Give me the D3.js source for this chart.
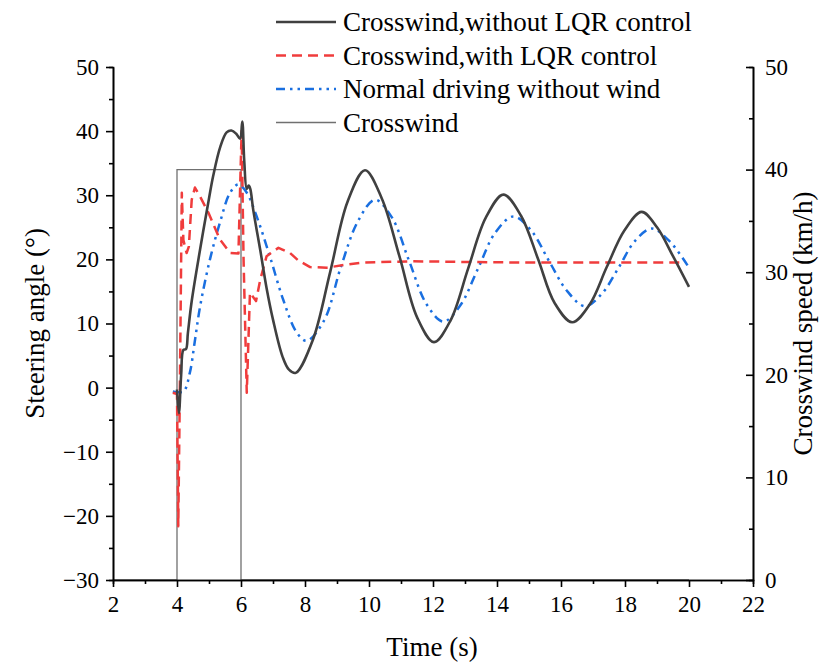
<!DOCTYPE html>
<html>
<head>
<meta charset="utf-8">
<script src="https://cdn.jsdelivr.net/npm/d3@7"></script>
<style>
  body { margin: 0; background: #fff; }
  svg text { font-family: "Liberation Serif", "Times New Roman", serif; fill: #000; }
</style>
</head>
<body>
<script>
// time (s) and steering angle (deg)
var tNoLqr = [4.0, 4.06, 4.13, 4.2, 4.28, 4.34, 4.46, 4.72, 5.0, 5.13, 5.35, 5.55, 5.7, 5.85, 5.97, 6.04, 6.1, 6.18, 6.24, 6.29, 6.38, 6.6, 6.8, 7.0, 7.3, 7.5, 7.71, 8.25, 8.79, 9.33, 9.875, 10.4, 10.95, 11.5, 12.03, 12.55, 13.1, 13.65, 14.2, 14.75, 15.28, 15.8, 16.35, 16.9, 17.43, 17.98, 18.52, 19.0, 19.5, 20.0];
var vNoLqr = [-0.3, -4.0, 2, 5.9, 6.0, 8.5, 13.5, 21.5, 29.5, 33, 37.5, 39.8, 40.1, 39.6, 38.8, 41.5, 35.5, 31.0, 31.5, 31.0, 27.8, 21.5, 15.5, 10.6, 4.8, 2.8, 2.3, 7.5, 18.1, 29, 33.9, 29.5, 20.5, 11, 7.1, 10.5, 18.6, 26.5, 30.1, 26.8, 20.1, 13.2, 10.2, 13, 18.8, 24.5, 27.4, 25, 20.5, 15.7];

var tLqr = [3.87, 4.0, 4.04, 4.09, 4.15, 4.2, 4.3, 4.37, 4.46, 4.56, 4.72, 4.98, 5.34, 5.66, 5.92, 5.99, 6.02, 6.08, 6.18, 6.28, 6.47, 6.6, 6.8, 7.17, 7.53, 7.8, 8.16, 8.68, 9.3, 9.81, 11.38, 13, 15, 17, 19.7];
var vLqr = [-0.8, -1, -21.6, 0, 30.4, 23, 21, 22, 29.3, 31.2, 29.8, 27.3, 23.1, 21, 20.9, 34.5, 40, 20, -0.8, 14.8, 13.5, 16.8, 20.5, 21.8, 21, 19.8, 18.8, 18.7, 19.2, 19.5, 19.7, 19.6, 19.5, 19.5, 19.5];

var tNormal = [3.87, 4.2, 4.4, 4.55, 4.72, 5.03, 5.34, 5.66, 5.92, 6.18, 6.49, 6.9, 7.32, 7.74, 8.05, 8.6, 9.12, 9.66, 10.19, 10.72, 11.25, 11.8, 12.32, 12.85, 13.4, 13.95, 14.51, 15.07, 15.63, 16.2, 16.75, 17.27, 17.8, 18.3, 18.83, 19.4, 20.0];
var vNormal = [-0.6, -0.6, 2.3, 7, 12.6, 20, 25.7, 30.4, 31.7, 30.4, 26.7, 20.5, 13.7, 8.6, 7.3, 10.5, 18.8, 26, 29.3, 26.5, 19.8, 13, 10.3, 12.8, 18.5, 24.2, 26.7, 24.5, 19.7, 15, 12.7, 14.6, 18.7, 22.8, 24.8, 22.8, 18.7];

// crosswind speed (km/h), right axis
var tWind = [2, 4, 4, 6, 6, 20];
var vWind = [0, 0, 40, 40, 0, 0];

var xTicks = [2, 4, 6, 8, 10, 12, 14, 16, 18, 20, 22];
var yTicks = [-30, -20, -10, 0, 10, 20, 30, 40, 50];
var y2Ticks = [0, 10, 20, 30, 40, 50];

var legendNames = ["Crosswind,without LQR control", "Crosswind,with LQR control", "Normal driving without wind", "Crosswind"];

var W = 819, H = 662;
var FONT = "Liberation Serif, Times New Roman, serif";
var margin = { top: 67, right: 66, bottom: 82, left: 113 },
    width = W - margin.left - margin.right,
    height = H - margin.top - margin.bottom;

var x = d3.scaleLinear().domain([2, 22]).range([0, width]);
var y = d3.scaleLinear().domain([-30, 50]).range([height, 0]);
var y2 = d3.scaleLinear().domain([0, 50]).range([height, 0]);

var svg = d3.select("body").append("svg")
    .attr("width", W)
    .attr("height", H)
    .attr("font-family", FONT);

var g = svg.append("g")
    .attr("transform", "translate(" + margin.left + "," + margin.top + ")");

function zip(ts, vs) {
    return ts.map(function (t, i) { return [t, vs[i]]; });
}

var styles = [
    { color: "#404040", width: 2.6, dash: null },
    { color: "#f03c3c", width: 2.5, dash: "10,6" },
    { color: "#1a6fe0", width: 2.5, dash: "9,5,2.5,5,2.5,5" },
    { color: "#707070", width: 1.3, dash: null }
];

var smooth = d3.line()
    .x(function (d) { return x(d[0]); })
    .y(function (d) { return y(d[1]); })
    .curve(d3.curveCatmullRom.alpha(0.5));

var straight = d3.line()
    .x(function (d) { return x(d[0]); })
    .y(function (d) { return y(d[1]); });

var windLine = d3.line()
    .x(function (d) { return x(d[0]); })
    .y(function (d) { return y2(d[1]); });

// crosswind step
g.append("path")
    .datum(zip(tWind, vWind))
    .attr("fill", "none")
    .attr("stroke", styles[3].color)
    .attr("stroke-width", styles[3].width)
    .attr("d", windLine);

g.append("path")
    .datum(zip(tNormal, vNormal))
    .attr("fill", "none")
    .attr("stroke", styles[2].color)
    .attr("stroke-width", styles[2].width)
    .attr("stroke-dasharray", styles[2].dash)
    .attr("d", smooth);

g.append("path")
    .datum(zip(tLqr, vLqr))
    .attr("fill", "none")
    .attr("stroke", styles[1].color)
    .attr("stroke-width", styles[1].width)
    .attr("stroke-dasharray", styles[1].dash)
    .attr("stroke-linejoin", "round")
    .attr("d", straight);

g.append("path")
    .datum(zip(tNoLqr, vNoLqr))
    .attr("fill", "none")
    .attr("stroke", styles[0].color)
    .attr("stroke-width", styles[0].width)
    .attr("stroke-linejoin", "round")
    .attr("d", smooth);

// axes
var minorX = d3.range(3, 22, 2);
var minorY = d3.range(-25, 50, 10);
var minorY2 = d3.range(5, 50, 10);

g.append("g")
    .attr("class", "axis")
    .attr("transform", "translate(0," + height + ")")
    .call(d3.axisBottom(x).tickValues(minorX).tickSize(4).tickFormat(""));
var xAx = g.append("g")
    .attr("class", "axis")
    .attr("transform", "translate(0," + height + ")")
    .call(d3.axisBottom(x).tickValues(xTicks).tickSize(7).tickSizeOuter(0).tickPadding(8));

g.append("g")
    .attr("class", "axis")
    .call(d3.axisLeft(y).tickValues(minorY).tickSize(4).tickFormat(""));
var yAx = g.append("g")
    .attr("class", "axis")
    .call(d3.axisLeft(y).tickValues(yTicks).tickSize(7).tickSizeOuter(0).tickPadding(7)
        .tickFormat(function (d) { return d < 0 ? "\u2212" + Math.abs(d) : d; }));

g.append("g")
    .attr("class", "axis")
    .attr("transform", "translate(" + width + ",0)")
    .call(d3.axisRight(y2).tickValues(minorY2).tickSize(-4).tickFormat(""));
var y2Ax = g.append("g")
    .attr("class", "axis")
    .attr("transform", "translate(" + width + ",0)")
    .call(d3.axisRight(y2).tickValues(y2Ticks).tickSize(-7).tickSizeOuter(0).tickPadding(12));

g.selectAll(".axis")
    .attr("font-family", FONT)
    .attr("font-size", 23);
g.selectAll(".axis path").attr("stroke", "#000").attr("stroke-width", 1.6);
g.selectAll(".axis line").attr("stroke", "#000").attr("stroke-width", 1.6);
g.selectAll(".axis text").attr("fill", "#000");
xAx.selectAll("text").attr("dy", "0.75em");

// axis titles
svg.append("text")
    .attr("transform", "translate(44," + (margin.top + height / 2) + ") rotate(-90)")
    .attr("text-anchor", "middle")
    .attr("font-size", 27)
    .text("Steering angle (\u00b0)");

svg.append("text")
    .attr("transform", "translate(812," + (margin.top + height / 2) + ") rotate(-90)")
    .attr("text-anchor", "middle")
    .attr("font-size", 27)
    .text("Crosswind speed (km/h)");

svg.append("text")
    .attr("x", margin.left + width / 2 - 1)
    .attr("y", 656)
    .attr("text-anchor", "middle")
    .attr("font-size", 27)
    .text("Time (s)");

// legend
var legend = svg.append("g").attr("transform", "translate(276,22)");
legendNames.forEach(function (name, i) {
    var row = legend.append("g").attr("transform", "translate(0," + (i * 33.5) + ")");
    row.append("line")
        .attr("x1", 0).attr("x2", 60)
        .attr("y1", 0).attr("y2", 0)
        .attr("stroke", styles[i].color)
        .attr("stroke-width", i == 3 ? 1.3 : styles[i].width)
        .attr("stroke-dasharray", styles[i].dash);
    row.append("text")
        .attr("x", 67)
        .attr("y", 9)
        .attr("font-size", 27)
        .text(name);
});
</script>
</body>
</html>
